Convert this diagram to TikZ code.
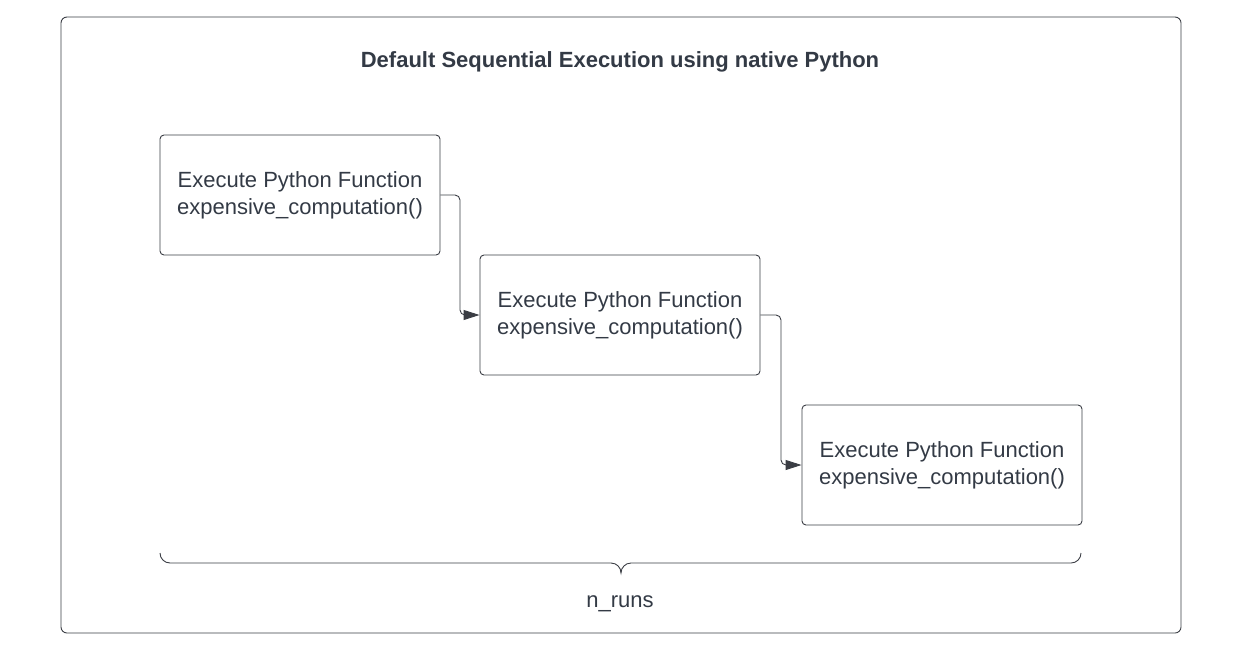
\documentclass[tikz,border=0pt]{standalone}
\usepackage{fontspec}
\setmainfont{Liberation Sans}
\usetikzlibrary{arrows.meta}
\definecolor{txt}{HTML}{333A45}
\definecolor{ln}{HTML}{3A3D44}
\tikzset{
  fn/.style={draw=ln, line width=0.9pt, rounded corners=4pt, minimum width=280pt, minimum height=120pt, inner sep=0pt, align=center, font=\fontsize{22}{27}\selectfont, text=txt},
  conn/.style={draw=ln, line width=0.9pt, rounded corners=5pt, -{Triangle[length=16pt,width=10pt]}},
}
\begin{document}
\begin{tikzpicture}[x=1pt,y=-1pt]
\useasboundingbox (0,0) rectangle (1241,653);
\draw[ln, line width=0.9pt, rounded corners=6pt] (61,17) rectangle (1181,633);
\node[font=\bfseries\fontsize{22}{26}\selectfont, text=txt] (title) at (620,62) {Default Sequential Execution using native Python};
\node[fn] (b1) at (300,195) {Execute Python Function\\expensive\_computation()};
\node[fn] (b2) at (620,315) {Execute Python Function\\expensive\_computation()};
\node[fn] (b3) at (942,465) {Execute Python Function\\expensive\_computation()};
\draw[conn] (b1.east) -| (460,260) |- (b2.west);
\draw[conn] (b2.east) -| (781,400) |- (b3.west);
\coordinate (bl) at (160,553);
\coordinate (br) at (1081,553);
\coordinate (bt) at (621,573);
\draw[ln, line width=0.9pt] (bl) arc[start angle=180, end angle=270, radius=10pt] -- (611,563) to[out=0, in=90] (bt) to[out=90, in=180] (631,563) -- (1071,563) arc[start angle=270, end angle=360, radius=10pt];
\node[font=\fontsize{22}{26}\selectfont, text=txt] (lab) at (620,604) {n\_runs};
\end{tikzpicture}
\end{document}
